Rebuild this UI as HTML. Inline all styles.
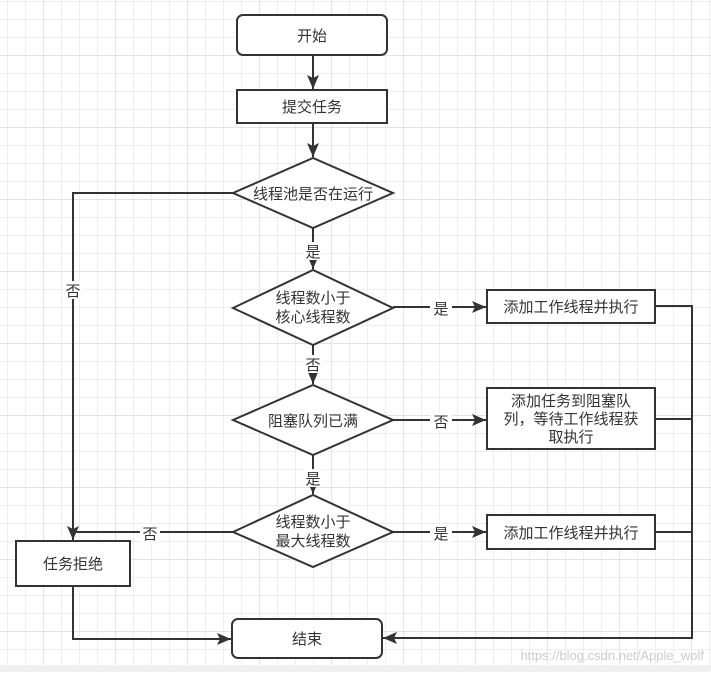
<!DOCTYPE html>
<html><head><meta charset="utf-8"><style>
html,body{margin:0;padding:0;background:#fff;}
svg text{font-family:"Liberation Sans","Noto Sans CJK SC",sans-serif;font-size:15px;fill:#333;}
</style></head><body>
<svg width="711" height="672" viewBox="0 0 711 672" xmlns="http://www.w3.org/2000/svg">
<defs>
<pattern id="g" x="7" y="1" width="18" height="18" patternUnits="userSpaceOnUse"><path d="M0 0H18M0 0V18" stroke="#e3e3e3" stroke-width="1.2" fill="none"/></pattern>
<pattern id="G" x="43" y="55" width="72" height="72" patternUnits="userSpaceOnUse"><path d="M0 0H72M0 0V72" stroke="#d6d6d6" stroke-width="1.2" fill="none"/></pattern>
<marker id="a" markerWidth="16" markerHeight="14" refX="14" refY="6" orient="auto" markerUnits="userSpaceOnUse"><path d="M0 0L14 6L0 12L3 6Z" fill="#333"/></marker>
</defs>
<rect width="711" height="672" fill="url(#g)"/>
<rect width="711" height="672" fill="url(#G)"/>
<rect y="665" width="711" height="7" fill="#f0f0f0"/>
<g stroke="#333" stroke-width="2" fill="none">
<line x1="313" y1="55" x2="313" y2="89" marker-end="url(#a)"/>
<line x1="313" y1="123" x2="313" y2="157" marker-end="url(#a)"/>
<line x1="313" y1="228" x2="313" y2="269" marker-end="url(#a)"/>
<line x1="313" y1="345" x2="313" y2="384" marker-end="url(#a)"/>
<line x1="313" y1="455" x2="313" y2="494" marker-end="url(#a)"/>
<line x1="393" y1="307" x2="486" y2="307" marker-end="url(#a)"/>
<line x1="393" y1="420" x2="486" y2="420" marker-end="url(#a)"/>
<line x1="393" y1="532" x2="486" y2="532" marker-end="url(#a)"/>
<polyline points="233,193 73,193 73,540" marker-end="url(#a)"/>
<line x1="233" y1="532" x2="73" y2="532"/>
<polyline points="73,586 73,639 231,639" marker-end="url(#a)"/>
<polyline points="655,306 692,306 692,638 383,638" marker-end="url(#a)"/>
<line x1="655" y1="419" x2="692" y2="419"/>
<line x1="655" y1="532" x2="692" y2="532"/>
</g>
<g stroke="#333" stroke-width="2" fill="#fff">
<rect x="237" y="15" width="150" height="40" rx="6"/>
<rect x="237" y="90" width="150" height="33"/>
<polygon points="233,193 313,158 393,193 313,228"/>
<polygon points="233,308 313,270 393,308 313,345"/>
<polygon points="233,420 313,385 393,420 313,455"/>
<polygon points="233,532 313,495 393,532 313,567"/>
<rect x="487" y="290" width="168" height="33"/>
<rect x="487" y="388" width="168" height="61"/>
<rect x="487" y="515" width="168" height="34"/>
<rect x="16" y="541" width="114" height="45"/>
<rect x="232" y="619" width="150" height="39" rx="6"/>
</g>
<g fill="#fff">
<rect x="303" y="242" width="20" height="18"/>
<rect x="303" y="355" width="20" height="18"/>
<rect x="303" y="469" width="20" height="18"/>
<rect x="430" y="299" width="22" height="18"/>
<rect x="430" y="412" width="22" height="18"/>
<rect x="430" y="524" width="22" height="18"/>
<rect x="63" y="281" width="20" height="18"/>
<rect x="140" y="524" width="20" height="18"/>
</g>
<g text-anchor="middle">
<text x="312" y="41">开始</text>
<text x="312" y="112">提交任务</text>
<text x="313" y="199">线程池是否在运行</text>
<text x="313" y="303">线程数小于</text>
<text x="313" y="322">核心线程数</text>
<text x="313" y="426">阻塞队列已满</text>
<text x="313" y="527">线程数小于</text>
<text x="313" y="546">最大线程数</text>
<text x="571" y="312">添加工作线程并执行</text>
<text x="571" y="406">添加任务到阻塞队</text>
<text x="571" y="424">列，等待工作线程获</text>
<text x="571" y="442">取执行</text>
<text x="571" y="538">添加工作线程并执行</text>
<text x="73" y="569">任务拒绝</text>
<text x="307" y="644">结束</text>
<text x="313" y="257">是</text>
<text x="313" y="370">否</text>
<text x="313" y="484">是</text>
<text x="441" y="314">是</text>
<text x="441" y="427">否</text>
<text x="441" y="539">是</text>
<text x="73" y="296">否</text>
<text x="150" y="539">否</text>
</g>
<text x="704" y="660" text-anchor="end" style="font-size:13px;fill:#ccc;">https://blog.csdn.net/Apple_wolf</text>
</svg>
</body></html>
